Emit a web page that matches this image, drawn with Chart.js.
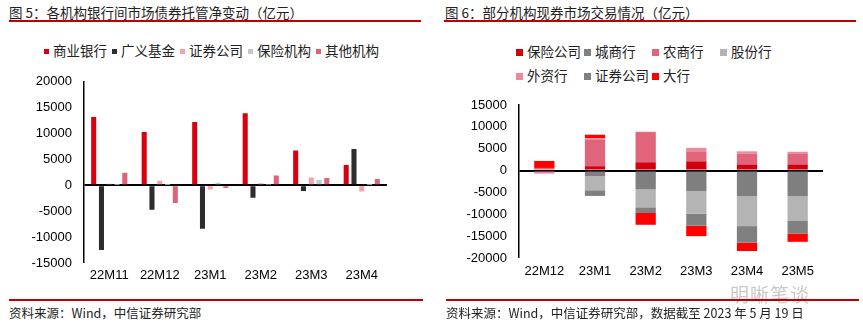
<!DOCTYPE html>
<html>
<head>
<meta charset="utf-8">
<script src="https://cdn.jsdelivr.net/npm/chart.js"></script>
<style>
  body { margin: 0; width: 863px; height: 330px; background: #fff; position: relative; overflow: hidden;
         font-family: "Noto Sans CJK SC", "Liberation Sans", sans-serif; color: #222; }
  .title { position: absolute; top: 2px; font-size: 13.5px; white-space: nowrap; }
  .rule { position: absolute; height: 1.5px; background: #c00000; }
  .foot { position: absolute; top: 303px; font-size: 12.5px; white-space: nowrap; }
  .legend { position: absolute; font-size: 13.5px; white-space: nowrap; }
  .legend span.item { display: inline-block; }
  #legL span.item { margin-right: 5px; }
  .legend i { display: inline-block; vertical-align: middle; margin-right: 4px; position: relative; top: -1px; }
  #legR { display: grid; grid-template-columns: 68px 68px 68px 68px; row-gap: 4px; }
  canvas { position: absolute; }
  .wm { position: absolute; left: 730px; top: 280px; font-size: 19px; color: #c9c9c9; letter-spacing: 1px; }
</style>
</head>
<body>
<div class="title" style="left:9px">图 5：各机构银行间市场债券托管净变动（亿元）</div>
<div class="rule" style="left:9px; width:412px; top:20px"></div>
<div class="title" style="left:445px">图 6：部分机构现券市场交易情况（亿元）</div>
<div class="rule" style="left:444px; width:412px; top:20px"></div>

<div class="legend" id="legL" style="left:44px; top:40px"></div>
<div class="legend" id="legR" style="left:516px; top:41px"></div>

<canvas id="chartL" width="430" height="220" style="left:0; top:70px"></canvas>
<canvas id="chartR" width="433" height="220" style="left:430px; top:70px"></canvas>

<div class="wm">明晰笔谈</div>
<div class="rule" style="left:9px; width:414px; top:299px"></div>
<div class="rule" style="left:446px; width:413px; top:299px"></div>
<div class="foot" style="left:9px">资料来源：Wind，中信证券研究部</div>
<div class="foot" style="left:446px">资料来源：Wind，中信证券研究部，数据截至 2023 年 5 月 19 日</div>

<script>
// 图5 data
const monthsL = ["22M11", "22M12", "23M1", "23M2", "23M3", "23M4"];
const seriesL = ["商业银行", "广义基金", "证券公司", "保险机构", "其他机构"];
const commercialBank = [13200, 10300, 12200, 13900, 6700, 3900];
const broadFund = [-12500, -4700, -8400, -2400, -1100, 7000];
const brokerL = [300, 900, -800, 400, 1500, -1200];
const insuranceL = [50, 50, 500, 100, 1000, 50];
const othersL = [2400, -3400, -500, 1900, 1400, 1200];
const colorsL = ["#d7000f", "#2d2d2d", "#f4a1ae", "#c6c6c6", "#e0627a"];
const ticksL = [-15000, -10000, -5000, 0, 5000, 10000, 15000, 20000];

// 图6 data
const monthsR = ["22M12", "23M1", "23M2", "23M3", "23M4", "23M5"];
const seriesR = ["保险公司", "城商行", "农商行", "股份行", "外资行", "证券公司", "大行"];
const insuranceR = [0, 1000, 1900, 2100, 1400, 1400];
const cityBank = [0, -1300, -4300, -4700, -5900, -5900];
const ruralBank = [600, 6000, 6900, 2300, 2500, 2400];
const jointStock = [0, -3200, -4100, -5200, -6800, -5500];
const foreignBank = [-700, 400, 100, 800, 500, 500];
const brokerR = [0, -1300, -1300, -2700, -3800, -3000];
const bigBank = [1600, 800, -2700, -2400, -1900, -1900];
const colorsR = ["#d2000d", "#7f7f7f", "#e0647a", "#b4b4b4", "#ea8a9a", "#808080", "#ff0000"];
const ticksR = [-20000, -15000, -10000, -5000, 0, 5000, 10000, 15000];

const valuesL = [commercialBank, broadFund, brokerL, insuranceL, othersL];
const valuesR = [insuranceR, cityBank, ruralBank, jointStock, foreignBank, brokerR, bigBank];

Chart.defaults.font.family = "'Liberation Sans', Arial, sans-serif";
Chart.defaults.color = "#000";

function legendHtml(names, colors, box) {
    return names.map((n, i) =>
        '<span class="item"><i style="width:' + box + 'px;height:' + box + 'px;background:' + colors[i] + '"></i>' + n + '</span>'
    ).join('');
}
document.getElementById("legL").innerHTML = legendHtml(seriesL, colorsL, 5);
document.getElementById("legR").innerHTML = legendHtml(seriesR, colorsR, 7);

function yScale(ticks, width) {
    return {
        min: ticks[0],
        max: ticks[ticks.length - 1],
        afterBuildTicks: s => { s.ticks = ticks.map(v => ({ value: v })); },
        // fixed axis width, and no extra room for the end labels
        afterFit: s => { s.width = width; s.paddingTop = 0; s.paddingBottom = 0; },
        border: { display: true, color: "#000", width: 1.5 },
        grid: {
            drawTicks: false,
            color: c => c.tick && c.tick.value === 0 ? "#000" : "rgba(0,0,0,0)",
            lineWidth: c => c.tick && c.tick.value === 0 ? 2 : 0,
        },
        ticks: { padding: 12, font: { size: 13 }, color: "#000", callback: v => String(v) },
    };
}

function xScale(height, stacked, pad) {
    return {
        stacked: stacked,
        afterFit: s => { s.height = height; },
        border: { display: false },
        grid: { display: false, drawTicks: false },
        ticks: { padding: pad, font: { size: 13 }, color: "#000", maxRotation: 0, autoSkip: false },
    };
}

// 图5
new Chart(document.getElementById("chartL"), {
    type: "bar",
    data: {
        labels: monthsL,
        datasets: seriesL.map((name, i) => ({
            label: name,
            data: valuesL[i],
            backgroundColor: colorsL[i],
            categoryPercentage: 0.77,
            barPercentage: 0.65,
        })),
    },
    options: {
        responsive: false,
        animation: false,
        devicePixelRatio: 1,
        layout: { padding: { top: 11.7, right: 43, bottom: 0, left: 0 } },
        plugins: { legend: { display: false }, tooltip: { enabled: false } },
        scales: { x: xScale(27, false, 5), y: yScale(ticksL, 84) },
    },
});

// 图6
new Chart(document.getElementById("chartR"), {
    type: "bar",
    data: {
        labels: monthsR,
        datasets: seriesR.map((name, i) => ({
            label: name,
            data: valuesR[i],
            backgroundColor: colorsR[i],
            categoryPercentage: 0.5,
            barPercentage: 0.8,
        })),
    },
    options: {
        responsive: false,
        animation: false,
        devicePixelRatio: 1,
        layout: { padding: { top: 35, right: 40, bottom: 0, left: 0 } },
        plugins: { legend: { display: false }, tooltip: { enabled: false } },
        scales: {
            x: xScale(32, true, 6),
            y: Object.assign(yScale(ticksR, 89), { stacked: true }),
        },
    },
});
</script>
</body>
</html>
